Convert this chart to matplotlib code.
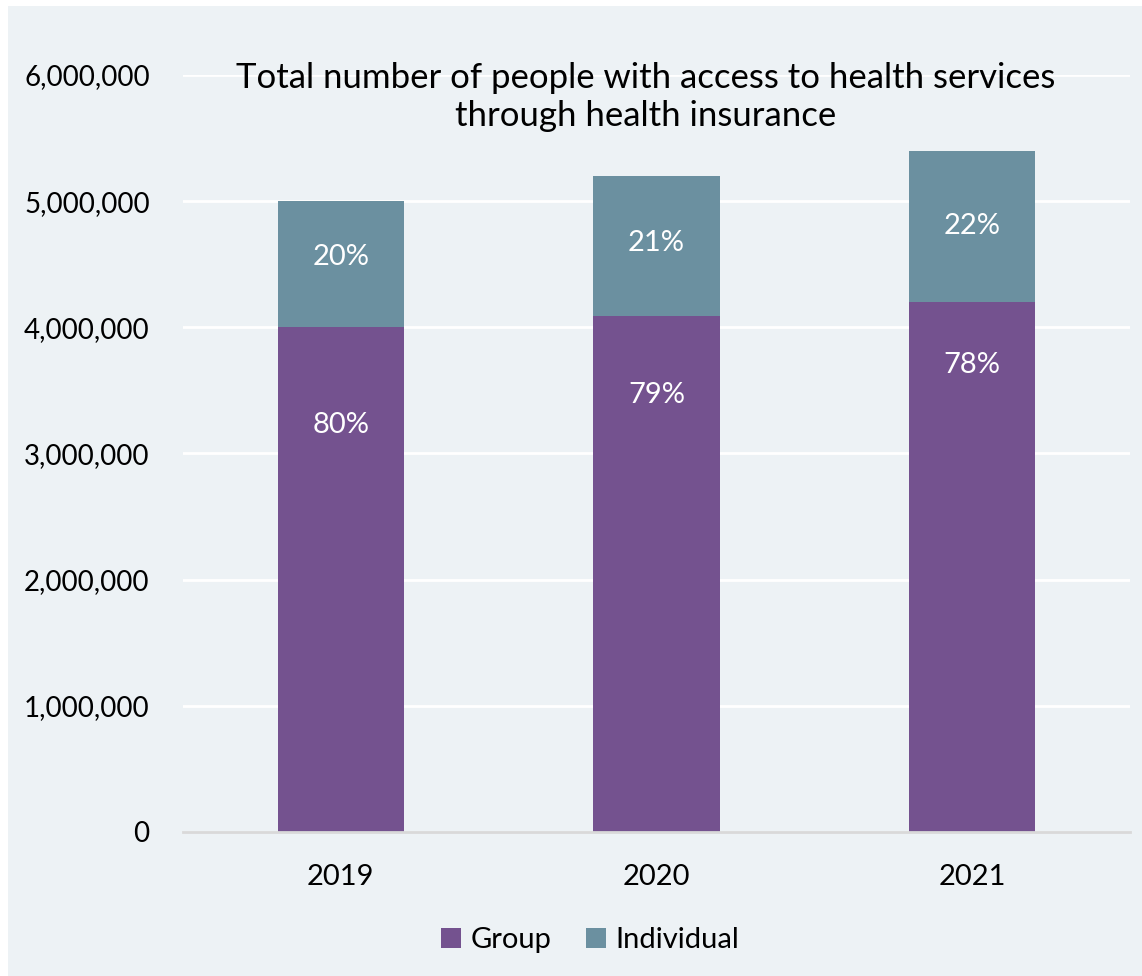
import matplotlib.pyplot as plt
from matplotlib.patches import Rectangle
from matplotlib.ticker import FuncFormatter

plt.rcParams['font.family'] = ['Lato', 'DejaVu Sans']

# data
years = ['2019', '2020', '2021']
group = [4000000, 4090000, 4200000]
individual = [1000000, 1110000, 1200000]
group_pct = ['80%', '79%', '78%']
individual_pct = ['20%', '21%', '22%']

# where the percent labels sit inside each segment (fraction of segment height)
group_lbl_pos = [0.806, 0.847, 0.881]
indiv_lbl_pos = [0.557, 0.52, 0.50]

bg = '#EDF2F5'
c_group = '#74528F'
c_indiv = '#6B90A0'

fig = plt.figure(figsize=(11.42, 9.76), dpi=100)
fig.patch.set_facecolor('white')
fig.patches.append(Rectangle((8 / 1142, 0), 1, 1 - 6 / 976, transform=fig.transFigure,
                             facecolor=bg, edgecolor='none', zorder=-1))

ax = fig.add_axes([183 / 1142, 1 - 832 / 976, (1130 - 183) / 1142, (832 - 75) / 976])
ax.set_facecolor(bg)

x = range(len(years))
ax.bar(x, group, width=0.4, color=c_group, label='Group', zorder=3)
ax.bar(x, individual, width=0.4, bottom=group, color=c_indiv, label='Individual', zorder=3)

for i in x:
    ax.text(i, group[i] * group_lbl_pos[i], group_pct[i], ha='center', va='center',
            color='white', fontsize=21, zorder=4)
    ax.text(i, group[i] + individual[i] * indiv_lbl_pos[i], individual_pct[i], ha='center',
            va='center', color='white', fontsize=21, zorder=4)

ax.set_xlim(-0.5, 2.5)
ax.set_ylim(0, 6000000)
ax.set_yticks(range(0, 6000001, 1000000))
ax.yaxis.set_major_formatter(FuncFormatter(lambda v, p: f'{int(v):,}'))
ax.set_xticks(list(x))
ax.set_xticklabels(years)
ax.tick_params(axis='both', length=0, labelsize=20, colors='black')
ax.tick_params(axis='x', labelsize=21, pad=23)
ax.tick_params(axis='y', pad=24)
ax.grid(axis='y', color='white', linewidth=2, zorder=0)
for s in ['top', 'right', 'left']:
    ax.spines[s].set_visible(False)
ax.spines['bottom'].set_color('#D9D9D9')
ax.spines['bottom'].set_linewidth(2)
ax.spines['bottom'].set_zorder(5)

fig.text(646 / 1142, 1 - 97 / 976,
         'Total number of people with access to health services\nthrough health insurance',
         ha='center', va='center', fontsize=25, linespacing=1.2)

fig.legend(loc='center', bbox_to_anchor=(590 / 1142, 1 - 940 / 976), ncol=2, frameon=False,
           fontsize=21, handlelength=0.7, handleheight=0.7, handletextpad=0.3, columnspacing=1.2)

fig.savefig('out.png', dpi=100, facecolor=fig.get_facecolor())
